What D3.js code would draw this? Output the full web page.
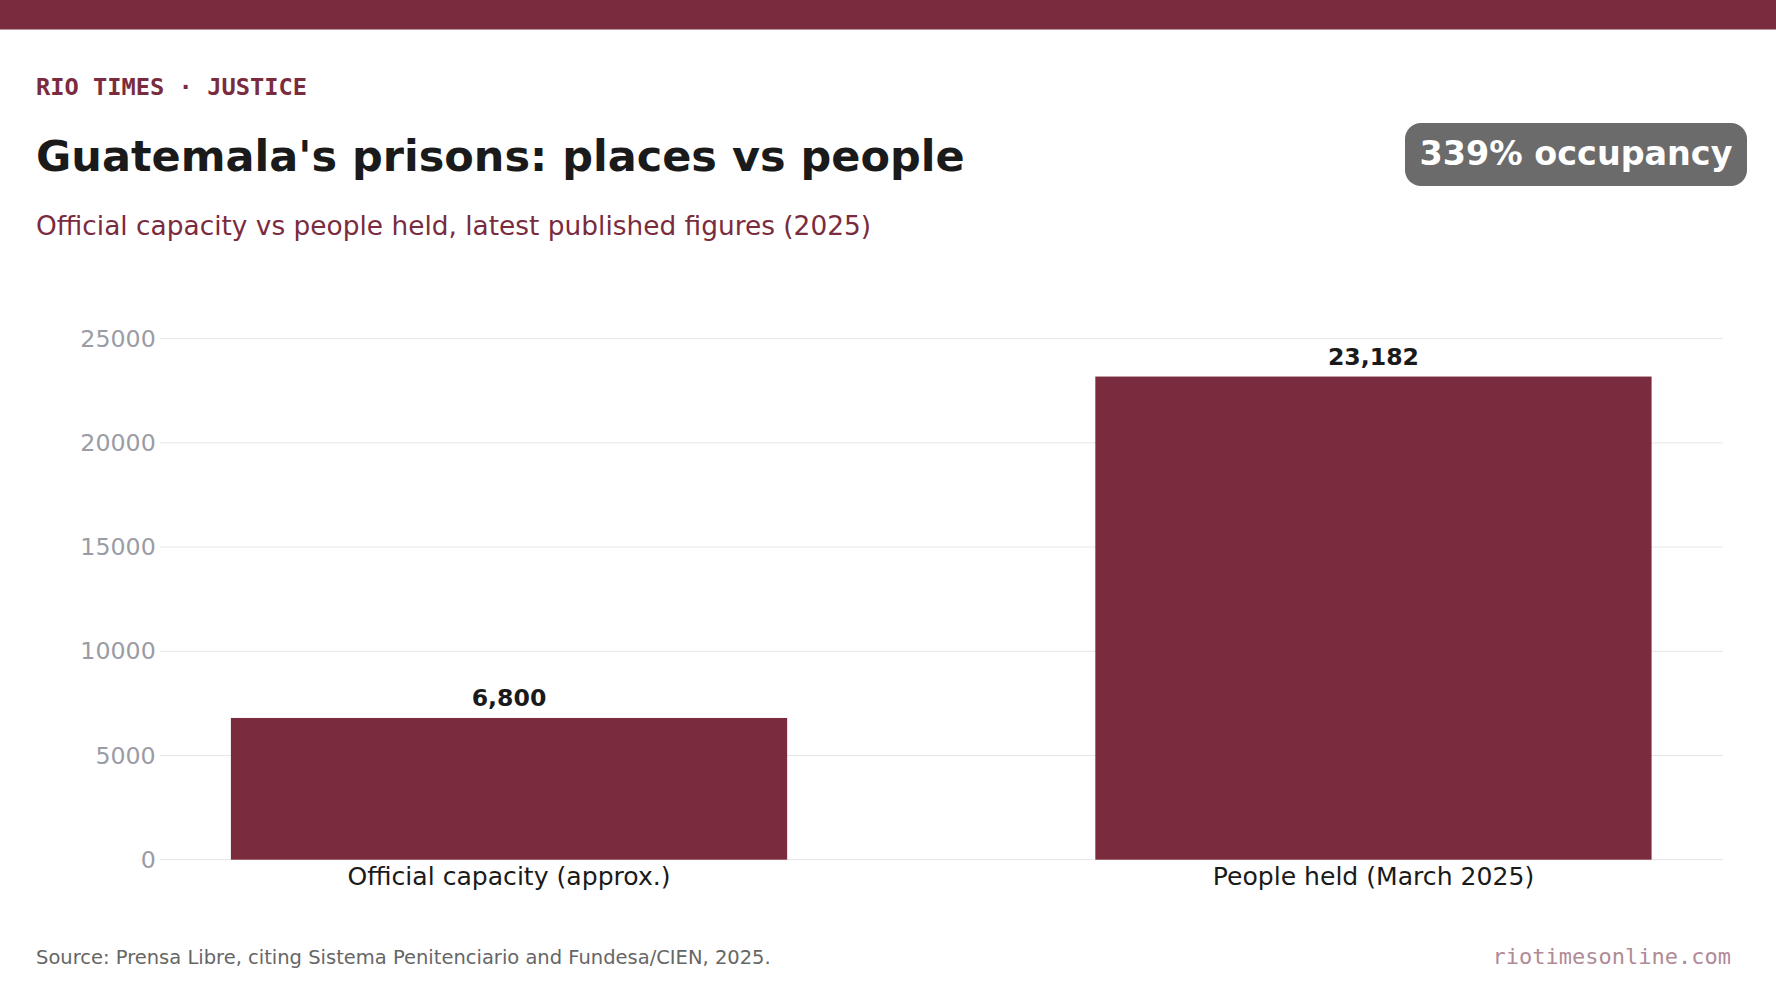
<!DOCTYPE html>
<html><head><meta charset="utf-8">
<script src="https://cdn.jsdelivr.net/npm/d3@7"></script>
<style>body{margin:0;background:#fff}</style></head>
<body><svg id="c" width="1776" height="999"></svg>
<script>
const categories = ["Official capacity (approx.)", "People held (March 2025)"];
const values = [6800, 23182];
const yTicks = [0, 5000, 10000, 15000, 20000, 25000];

const s = 1776/1568;
const svg = d3.select("#c");
const red = "#7a2c3e";
svg.append("rect").attr("width",1776).attr("height",29.5).attr("fill",red);
svg.append("text").attr("x",36).attr("y",95).attr("font-family","DejaVu Sans Mono").attr("font-weight","bold").attr("font-size",23.7).attr("fill",red).text("RIO TIMES · JUSTICE");
svg.append("text").attr("x",36).attr("y",171).attr("font-family","DejaVu Sans").attr("font-weight","bold").attr("font-size",43).attr("fill","#1a1a1a").text("Guatemala's prisons: places vs people");
svg.append("text").attr("x",36).attr("y",235).attr("font-family","DejaVu Sans").attr("font-size",26.4).attr("fill",red).text("Official capacity vs people held, latest published figures (2025)");
svg.append("rect").attr("x",1405).attr("y",123).attr("width",342).attr("height",63).attr("rx",16).attr("fill","#6b6b6b");
svg.append("text").attr("x",1576).attr("y",165).attr("text-anchor","middle").attr("font-family","DejaVu Sans").attr("font-weight","bold").attr("font-size",33.4).attr("fill","#fff").text("339% occupancy");

const y = d3.scaleLinear().domain([0,25000]).range([759*s,299*s]);
const x = d3.scaleBand().domain(categories).range([68*s,1594*s]).paddingInner(0.3565).paddingOuter(0.178);
const gx0 = 141*s, gx1 = 1521*s;

const grid = svg.append("g");
yTicks.forEach(t=>{
  grid.append("line").attr("x1",gx0).attr("x2",gx1).attr("y1",y(t)).attr("y2",y(t)).attr("stroke","#e6e6e6").attr("stroke-width",1);
});
const ya = svg.append("g").attr("transform",`translate(${gx0},0)`).call(d3.axisLeft(y).tickValues(yTicks).tickSize(0).tickPadding(4).tickFormat(d3.format("d")));
ya.select(".domain").remove();
ya.selectAll("text").attr("font-family","DejaVu Sans").attr("font-size",23.7).attr("fill","#9a9ca5");

svg.selectAll(".bar").data(values).enter().append("rect")
  .attr("x",(d,i)=>x(categories[i])).attr("width",x.bandwidth())
  .attr("y",d=>y(d)).attr("height",d=>y(0)-y(d)).attr("fill",red);
svg.selectAll(".vl").data(values).enter().append("text")
  .attr("x",(d,i)=>x(categories[i])+x.bandwidth()/2).attr("y",d=>y(d)-12)
  .attr("text-anchor","middle").attr("font-family","DejaVu Sans").attr("font-weight","bold").attr("font-size",23.6).attr("fill","#1a1a1a")
  .text(d=>d3.format(",")(d));

const xa = svg.append("g").attr("transform",`translate(0,${y(0)})`).call(d3.axisBottom(x).tickSize(0).tickPadding(8));
xa.select(".domain").remove();
xa.selectAll("text").attr("font-family","DejaVu Sans").attr("font-size",25.1).attr("fill","#1a1a1a").attr("dy","0.71em");

svg.append("text").attr("x",36).attr("y",964).attr("font-family","DejaVu Sans").attr("font-size",19.5).attr("fill","#666").text("Source: Prensa Libre, citing Sistema Penitenciario and Fundesa/CIEN, 2025.");
svg.append("text").attr("x",1731).attr("y",964).attr("text-anchor","end").attr("font-family","DejaVu Sans Mono").attr("font-size",22).attr("fill","#b08a96").text("riotimesonline.com");
</script></body></html>
